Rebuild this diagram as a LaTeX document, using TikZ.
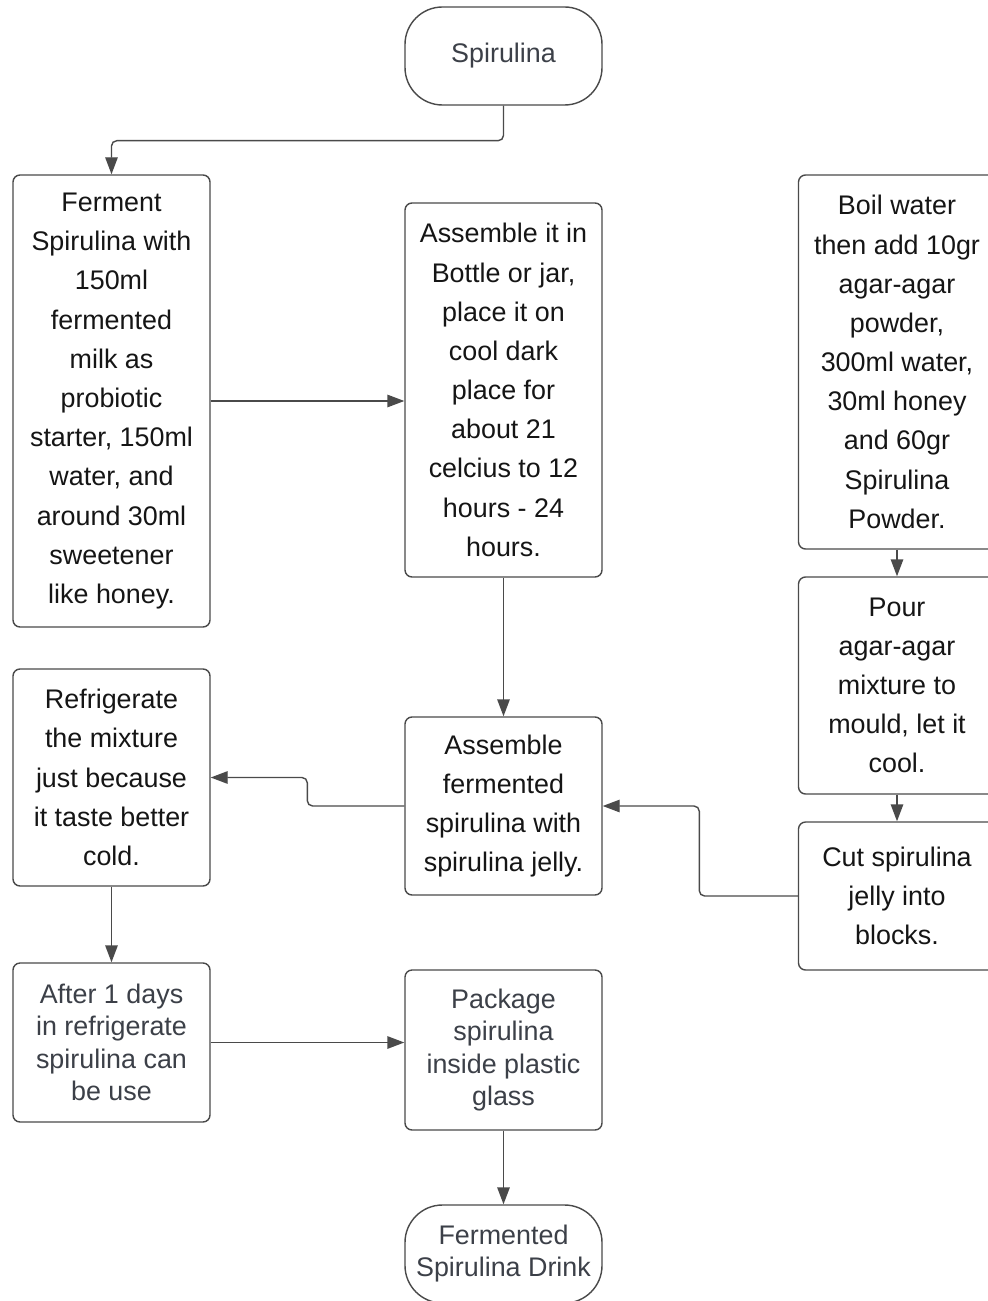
\documentclass[tikz,border=0pt]{standalone}
\usepackage{fontspec}
\setmainfont{Liberation Sans}
\usepackage{tikz}
\usetikzlibrary{arrows.meta,positioning,calc}
\definecolor{lineg}{HTML}{4A4A4A}
\definecolor{textdk}{HTML}{151515}
\definecolor{textgr}{HTML}{3C4048}
\tikzset{
  proc/.style   = {draw=lineg, line width=0.8pt, rounded corners=4pt, fill=white,
                   minimum width=3.94cm, inner sep=2pt, align=center, text=textdk,
                   font=\fontsize{15.3}{22.3}\selectfont},
  procg/.style  = {proc, text=textgr, font=\fontsize{15.3}{18.5}\selectfont},
  term/.style   = {proc, rounded corners=0.75cm, minimum height=1.96cm,
                   text=textgr, font=\fontsize{15.3}{18.2}\selectfont},
  arr/.style    = {draw=lineg, line width=0.8pt, rounded corners=3pt,
                   -{Triangle[length=3.4mm,width=2.5mm]}},
}
\begin{document}
\begin{tikzpicture}
  \useasboundingbox (0,0) rectangle (19.74,-26.02);
  % terminals
  \node[term] (start) at (10.07,-1.12) {Spirulina};
  \node[term] (endn)  at (10.07,-25.08) {Fermented\\Spirulina Drink};
  % left column
  \node[proc, minimum height=9.04cm] (ferm) at (2.23,-8.02)
    {Ferment\\Spirulina with\\150ml\\fermented\\milk as\\probiotic\\starter, 150ml\\water, and\\around 30ml\\sweetener\\like honey.};
  \node[proc, minimum height=4.34cm] (refrig) at (2.23,-15.55)
    {Refrigerate\\the mixture\\just because\\it taste better\\cold.};
  \node[procg, minimum height=3.18cm] (after) at (2.23,-20.85)
    {After 1 days\\in refrigerate\\spirulina can\\be use};
  % middle column
  \node[proc, minimum height=7.48cm] (assem1) at (10.07,-7.80)
    {Assemble it in\\Bottle or jar,\\place it on\\cool dark\\place for\\about 21\\celcius to 12\\hours - 24\\hours.};
  \node[proc, minimum height=3.56cm] (assem2) at (10.07,-16.12)
    {Assemble\\fermented\\spirulina with\\spirulina jelly.};
  \node[procg, minimum height=3.20cm] (pack) at (10.07,-21.00)
    {Package\\spirulina\\inside plastic\\glass};
  % right column
  \node[proc, minimum height=7.48cm] (boil) at (17.94,-7.24)
    {Boil water\\then add 10gr\\agar-agar\\powder,\\300ml water,\\30ml honey\\and 60gr\\Spirulina\\Powder.};
  \node[proc, minimum height=4.34cm] (pour) at (17.94,-13.71)
    {Pour\\agar-agar\\mixture to\\mould, let it\\cool.};
  \node[proc, minimum height=2.96cm] (cut) at (17.94,-17.92)
    {Cut spirulina\\jelly into\\blocks.};
  % connectors
  \draw[arr] (start.south) -- ++(0,-0.70) -| (ferm.north);
  \draw[arr] (ferm.east) -- (ferm.east -| assem1.west);
  \draw[arr] (assem1.south) -- (assem2.north);
  \draw[arr] (boil.south) -- (pour.north);
  \draw[arr] (pour.south) -- (cut.north);
  \draw[arr] (cut.west) -- ++(-1.97,0) |- (assem2.east);
  \draw[arr] (assem2.west) -- ++(-1.94,0) |- (refrig.east);
  \draw[arr] (refrig.south) -- (after.north);
  \draw[arr] (after.east) -- (after.east -| pack.west);
  \draw[arr] (pack.south) -- (endn.north);
\end{tikzpicture}
\end{document}
